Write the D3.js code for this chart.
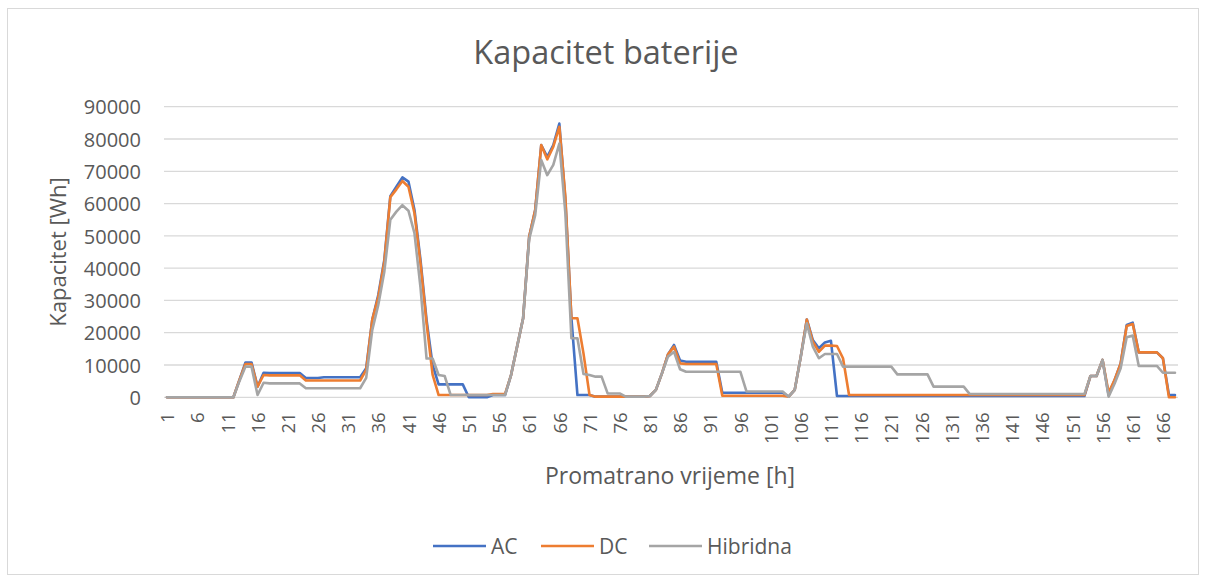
<!doctype html>
<html>
<head>
    <style>
        body { margin: 0; background: #fff; }
        text { font-family: "Open Sans", "Noto Sans", sans-serif; fill: #595959; }
        .grid line { stroke: #d9d9d9; stroke-width: 1.3; }
        .serie { fill: none; stroke-width: 2.6; stroke-linejoin: round; stroke-linecap: round; }
    </style>
    <script src="https://d3js.org/d3.v7.min.js"></script>
</head>
<body>
<svg width="1206" height="581"></svg>
<script>

    // sati 1..168
    var hours = d3.range(1, 169);

    var ac = [
        0,0,0,0,0,0,0,0,0,0,
        0,0,5400,10800,10800,3300,7600,7500,7500,7500,
        7500,7500,7500,6000,6000,6000,6200,6200,6200,6200,
        6200,6200,6200,9000,24000,31700,42500,62300,65200,68100,
        66800,58000,42500,24000,10000,4000,4000,4000,4000,4000,
        0,0,0,0,700,700,700,6900,15700,24500,
        49700,58000,78100,74500,78100,84800,61100,24500,700,700,
        700,200,200,200,200,200,200,200,200,200,
        400,2300,7400,13300,16200,11400,11000,11000,11000,11000,
        11000,11000,1400,1400,1400,1400,1400,1400,1400,1400,
        1400,1400,1400,200,2300,12600,24100,17700,15200,17000,
        17500,400,400,400,400,400,400,400,400,400,
        400,400,400,400,400,400,400,400,400,400,
        400,400,400,400,400,400,400,400,400,400,
        400,400,400,400,400,400,400,400,400,400,
        400,400,400,6600,6600,11600,700,5400,10500,22400,
        23100,13900,13900,13900,13900,12100,700,700
    ];

    var dc = [
        0,0,0,0,0,0,0,0,0,0,
        0,0,5400,10300,10300,3300,6900,6800,6800,6800,
        6800,6800,6800,5200,5200,5200,5200,5200,5200,5200,
        5200,5200,5200,8500,24000,31000,42000,62000,64400,67000,
        65200,57000,41500,23000,7000,700,700,700,700,700,
        700,700,700,700,1000,1000,1000,6900,15700,24500,
        49700,58000,78100,73700,77600,83800,62100,24500,24500,13600,
        700,200,200,200,200,200,200,200,200,200,
        400,2300,7400,13300,15700,10500,10300,10300,10300,10300,
        10300,10300,500,500,500,500,500,500,500,500,
        500,500,500,200,2300,12600,24100,17200,14100,16000,
        16000,15900,12100,700,700,700,700,700,700,700,
        700,700,700,700,700,700,700,700,700,700,
        700,700,700,700,700,700,700,700,700,700,
        700,700,700,700,700,700,700,700,700,700,
        700,700,700,6600,6600,11600,1500,5400,10500,22100,
        22700,13900,13900,13900,13900,12100,0,0
    ];

    var hibridna = [
        0,0,0,0,0,0,0,0,0,0,
        0,0,5000,9500,9500,700,4500,4300,4300,4300,
        4300,4300,4300,2800,2800,2800,2800,2800,2800,2800,
        2800,2800,2800,6000,20800,28600,38900,55000,57500,59500,
        57800,50800,34000,12000,12000,6900,6600,700,700,700,
        700,700,700,700,700,700,700,6900,15700,24500,
        49000,56400,73500,68800,72000,78600,57000,18300,18300,7200,
        6900,6400,6400,1200,1200,1200,200,200,200,200,
        400,2300,7400,12600,14100,8700,7900,7900,7900,7900,
        7900,7900,7900,7900,7900,7900,1800,1800,1800,1800,
        1800,1800,1800,200,2300,12600,22900,15700,12100,13400,
        13400,13400,9500,9500,9500,9500,9500,9500,9500,9500,
        9500,7100,7100,7100,7100,7100,7100,3300,3300,3300,
        3300,3300,3300,1000,1000,1000,1000,1000,1000,1000,
        1000,1000,1000,1000,1000,1000,1000,1000,1000,1000,
        1000,1000,1000,6600,6600,11600,200,4300,9000,18600,
        19100,9700,9700,9700,9700,7600,7600,7600
    ];

    var yTicks = [0,10000,20000,30000,40000,50000,60000,70000,80000,90000];
    var xTicks = hours.filter(function(h) { return (h - 1) % 5 == 0; });

    var series = [
        { name: "AC", values: ac, color: "#4472C4" },
        { name: "DC", values: dc, color: "#ED7D31" },
        { name: "Hibridna", values: hibridna, color: "#A5A5A5" }
    ];

    var svg = d3.select("svg");

    // okvir grafikona
    svg.append("rect")
       .attr("x", 7.5).attr("y", 8.5)
       .attr("width", 1191).attr("height", 566)
       .attr("fill", "#fff")
       .attr("stroke", "#d9d9d9");

    var x = d3.scalePoint().domain(hours).range([164, 1178]).padding(0.5),
        y = d3.scaleLinear().domain([0, 90000]).range([397.3, 106.7]);

    // mreza
    svg.append("g")
       .attr("class", "grid")
       .selectAll("line")
       .data(yTicks)
       .enter().append("line")
       .attr("x1", 164).attr("x2", 1178)
       .attr("y1", function(d) { return y(d); })
       .attr("y2", function(d) { return y(d); });

    // y os
    var yAxis = svg.append("g")
       .attr("transform", "translate(164,0)")
       .call(d3.axisLeft(y).tickValues(yTicks).tickFormat(d3.format("d")).tickSize(0).tickPadding(23));
    yAxis.select(".domain").remove();
    yAxis.selectAll("text")
         .style("font-size", "20px")
         .attr("dy", "0.36em");

    // x os
    var xAxis = svg.append("g")
       .attr("transform", "translate(0," + y(0) + ")")
       .call(d3.axisBottom(x).tickValues(xTicks).tickSize(0));
    xAxis.select(".domain").remove();
    xAxis.selectAll("text")
         .style("font-size", "18.5px")
         .attr("text-anchor", "end")
         .attr("transform", "rotate(-90)")
         .attr("x", -15)
         .attr("y", 0)
         .attr("dy", "0.36em");

    // linije
    var line = d3.line()
        .x(function(d, i) { return x(hours[i]); })
        .y(function(d) { return y(d); });

    svg.selectAll(".serie")
       .data(series)
       .enter().append("path")
       .attr("class", "serie")
       .attr("stroke", function(d) { return d.color; })
       .attr("d", function(d) { return line(d.values); });

    // naslovi
    svg.append("text")
       .attr("x", 606).attr("y", 64)
       .attr("text-anchor", "middle")
       .style("font-size", "32.5px")
       .text("Kapacitet baterije");

    svg.append("text")
       .attr("transform", "translate(66,252) rotate(-90)")
       .attr("text-anchor", "middle")
       .style("font-size", "22px")
       .text("Kapacitet [Wh]");

    svg.append("text")
       .attr("x", 670).attr("y", 484)
       .attr("text-anchor", "middle")
       .style("font-size", "23px")
       .text("Promatrano vrijeme [h]");

    // legenda
    var legendX = [433, 541, 649];
    var legend = svg.selectAll(".legend")
       .data(series)
       .enter().append("g")
       .attr("class", "legend")
       .attr("transform", function(d, i) { return "translate(" + legendX[i] + ",546)"; });

    legend.append("line")
          .attr("x1", 0).attr("x2", 53)
          .attr("stroke", function(d) { return d.color; })
          .attr("stroke-width", 2.6);

    legend.append("text")
          .attr("x", 58).attr("dy", "0.36em")
          .style("font-size", "21px")
          .text(function(d) { return d.name; });

</script>
</body>
</html>
